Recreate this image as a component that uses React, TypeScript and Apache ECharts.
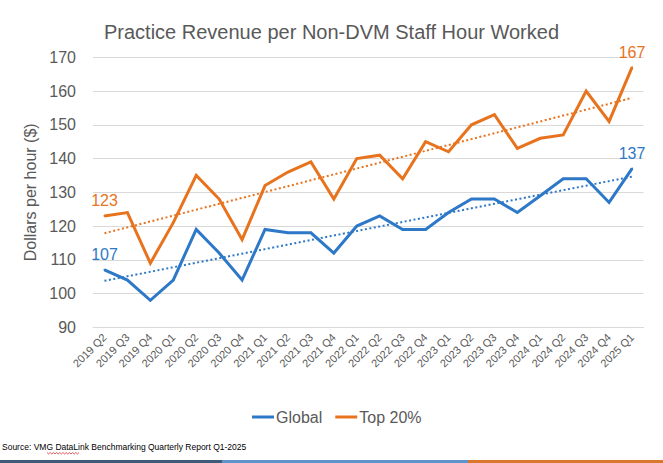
import React, { useEffect, useRef } from "react";
import * as echarts from "echarts";

const categories = [
  "2019 Q2", "2019 Q3", "2019 Q4",
  "2020 Q1", "2020 Q2", "2020 Q3", "2020 Q4",
  "2021 Q1", "2021 Q2", "2021 Q3", "2021 Q4",
  "2022 Q1", "2022 Q2", "2022 Q3", "2022 Q4",
  "2023 Q1", "2023 Q2", "2023 Q3", "2023 Q4",
  "2024 Q1", "2024 Q2", "2024 Q3", "2024 Q4",
  "2025 Q1",
];
const globalValues = [107, 104, 98, 104, 119, 112, 104, 119, 118, 118, 112, 120, 123, 119, 119, 124, 128, 128, 124, 129, 134, 134, 127, 137];
const top20Values = [123, 124, 109, 121, 135, 128, 116, 132, 136, 139, 128, 140, 141, 134, 145, 142, 150, 153, 143, 146, 147, 160, 151, 167];
const seriesNames = ["Global", "Top 20%"];
const yTicks = { min: 90, max: 170, interval: 10 };

const BLUE = "#2E78C8";
const ORANGE = "#E8731E";
const GREY = "#595959";

// Linear (least squares) trendline, as the spreadsheet's trendline does
function trend(values: number[]): number[] {
  const n = values.length;
  let sx = 0, sy = 0, sxx = 0, sxy = 0;
  values.forEach((v, i) => { sx += i; sy += v; sxx += i * i; sxy += i * v; });
  const b = (n * sxy - sx * sy) / (n * sxx - sx * sx);
  const a = (sy - b * sx) / n;
  return values.map((_, i) => +(a + b * i).toFixed(3));
}

function endLabels(values: number[], color: string) {
  const last = values.length - 1;
  return values.map((v, i) =>
    i === 0 || i === last
      ? { value: v, label: { show: true, position: "top", distance: 6, color, fontSize: 16, fontFamily: "Liberation Sans" } }
      : v
  );
}

export default function App() {
  const ref = useRef<HTMLDivElement>(null);
  useEffect(() => {
    document.body.style.margin = "0";
    const chart = echarts.init(ref.current!, null, { renderer: "svg" });
    const font = "Liberation Sans";
    const squiggle: number[][] = [];
    for (let k = 0; k <= 20; k++) squiggle.push([47 + k * 1.6, k % 2 === 0 ? 452.5 : 454]);
    chart.setOption({
      animation: false,
      backgroundColor: "#ffffff",
      title: {
        text: "Practice Revenue per Non-DVM Staff Hour Worked",
        left: "center",
        top: 17,
        textStyle: { color: GREY, fontSize: 20, fontWeight: "normal", fontFamily: font },
      },
      grid: { left: 93, right: 19.5, top: 57.3, bottom: 135.7, containLabel: false },
      legend: {
        data: [
          { name: seriesNames[0], itemStyle: { color: BLUE } },
          { name: seriesNames[1], itemStyle: { color: ORANGE } },
        ],
        left: 247,
        top: 404,
        icon: "rect",
        itemWidth: 22,
        itemHeight: 3,
        itemGap: 13,
        textStyle: { color: GREY, fontSize: 16, fontFamily: font, padding: [0, 0, 0, -3] },
      },
      xAxis: {
        type: "category",
        data: categories,
        boundaryGap: true,
        axisLine: { lineStyle: { color: "#d9d9d9" } },
        axisTick: { show: false },
        axisLabel: { rotate: 45, color: GREY, fontSize: 11, fontFamily: font, margin: 8, interval: 0 },
      },
      yAxis: {
        type: "value",
        min: yTicks.min,
        max: yTicks.max,
        interval: yTicks.interval,
        name: "Dollars per hour ($)",
        nameLocation: "middle",
        nameRotate: 90,
        nameGap: 55,
        nameTextStyle: { color: GREY, fontSize: 16, fontFamily: font },
        axisLine: { show: false },
        axisTick: { show: false },
        axisLabel: { color: GREY, fontSize: 16, fontFamily: font, margin: 17 },
        splitLine: { lineStyle: { color: "#d9d9d9" } },
      },
      series: [
        {
          name: seriesNames[0],
          type: "line",
          data: endLabels(globalValues, BLUE),
          symbol: "circle",
          symbolSize: 2,
          showSymbol: true,
          itemStyle: { color: BLUE },
          lineStyle: { color: BLUE, width: 3, join: "miter" },
          z: 3,
        },
        {
          name: seriesNames[1],
          type: "line",
          data: endLabels(top20Values, ORANGE),
          symbol: "circle",
          symbolSize: 2,
          showSymbol: true,
          itemStyle: { color: ORANGE },
          lineStyle: { color: ORANGE, width: 3, join: "miter" },
          z: 3,
        },
        {
          name: "Global trend",
          type: "line",
          data: trend(globalValues),
          symbol: "none",
          silent: true,
          lineStyle: { color: BLUE, width: 2, type: [2, 2.5] },
          z: 2,
        },
        {
          name: "Top 20% trend",
          type: "line",
          data: trend(top20Values),
          symbol: "none",
          silent: true,
          lineStyle: { color: ORANGE, width: 2, type: [2, 2.5] },
          z: 2,
        },
      ],
      graphic: [
        {
          type: "text",
          left: 2,
          top: 442,
          style: {
            text: "Source: VMG DataLink Benchmarking Quarterly Report Q1-2025",
            fill: "#000000",
            fontSize: 8.5,
            fontFamily: font,
          },
        },
        {
          type: "polyline",
          shape: { points: squiggle },
          style: { stroke: "#e03030", lineWidth: 0.8, fill: null },
        },
        { type: "rect", shape: { x: 0, y: 460, width: 222, height: 3 }, style: { fill: "#3E5C7A" } },
        { type: "rect", shape: { x: 222, y: 460, width: 246, height: 3 }, style: { fill: "#5F93CC" } },
        { type: "rect", shape: { x: 468, y: 460, width: 195, height: 3 }, style: { fill: "#D9782D" } },
      ],
    });
    return () => chart.dispose();
  }, []);
  return <div ref={ref} style={{ width: 663, height: 463 }} />;
}
